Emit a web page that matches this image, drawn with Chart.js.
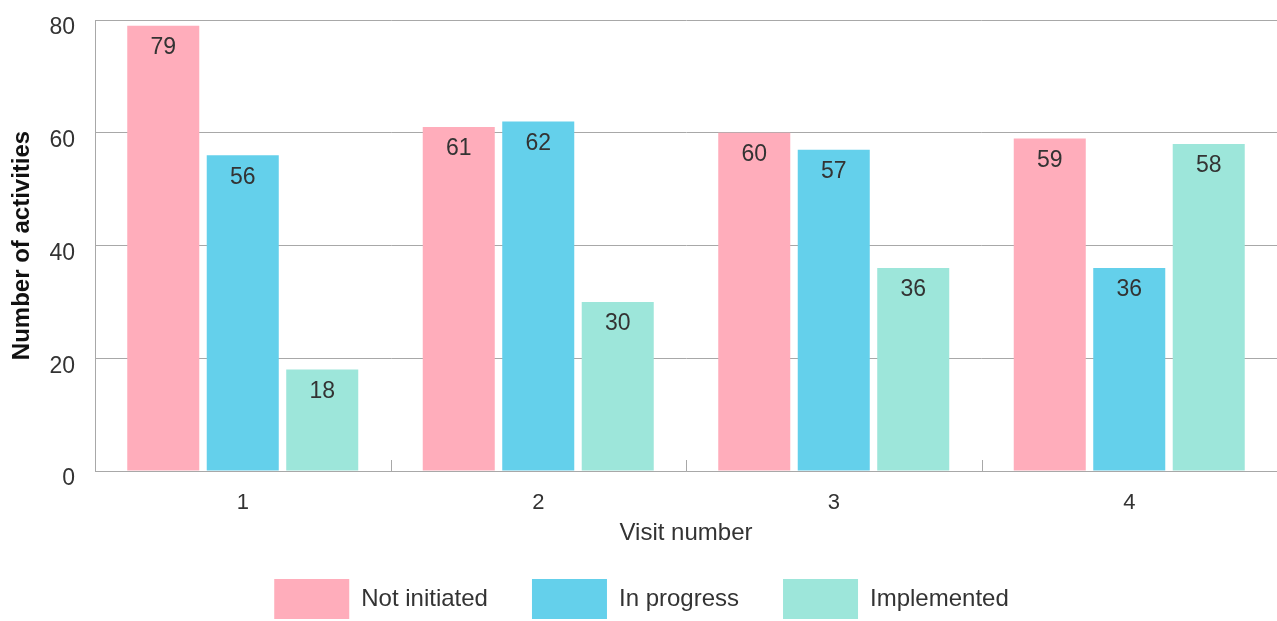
<!DOCTYPE html>
<html>
<head>
<meta charset="utf-8">
<script src="https://cdn.jsdelivr.net/npm/chart.js@4"></script>
<style>
  html, body { margin: 0; padding: 0; background: #fff; }
  #wrap { width: 1277px; height: 621px; position: relative; }
</style>
</head>
<body>
<div id="wrap"><canvas id="chart"></canvas></div>
<script>
// Data
const visits      = ['1', '2', '3', '4'];
const notInit     = [79, 61, 60, 59];
const inProgress  = [56, 62, 57, 36];
const implemented = [18, 30, 36, 58];
const yTicks      = [0, 20, 40, 60, 80];

// Styles
const FONT = "'Helvetica Neue', 'Liberation Sans', Arial, sans-serif";
const TXT  = '#333333';
const GRID = '#a8a8a8';

// value labels just under the top of each bar
const barLabels = {
  id: 'barLabels',
  afterDatasetsDraw(chart){
    const ctx = chart.ctx;
    ctx.save();
    ctx.font = `23px ${FONT}`;
    ctx.fillStyle = TXT;
    ctx.textAlign = 'center';
    ctx.textBaseline = 'middle';
    chart.data.datasets.forEach((ds, i) => {
      chart.getDatasetMeta(i).data.forEach((el, k) => {
        ctx.fillText(String(ds.data[k]), el.x, el.y + 22);
      });
    });
    ctx.restore();
  }
};

// small inside tick marks between the visit groups
const innerTicks = {
  id: 'innerTicks',
  afterDraw(chart){
    const x = chart.scales.x, ctx = chart.ctx;
    const bottom = chart.chartArea.bottom;
    ctx.save();
    ctx.strokeStyle = GRID;
    ctx.lineWidth = 1;
    ctx.beginPath();
    for (let i = 1; i < visits.length; i++){
      const px = Math.round((x.getPixelForValue(i - 1) + x.getPixelForValue(i)) / 2) + 0.5;
      ctx.moveTo(px, bottom - 11);
      ctx.lineTo(px, bottom);
    }
    ctx.stroke();
    ctx.restore();
  }
};

// trim the legend box height so the boxes sit at the bottom edge
const legendFit = {
  id: 'legendFit',
  beforeInit(chart){
    const orig = chart.legend.fit;
    chart.legend.fit = function(){
      orig.call(this);
      this.height = 86;
    };
  }
};

new Chart(document.getElementById('chart'), {
  type: 'bar',
  data: {
    labels: visits,
    datasets: [
      { label: 'Not initiated', data: notInit,     backgroundColor: '#ffadbb' },
      { label: 'In progress',   data: inProgress,  backgroundColor: '#64d0eb' },
      { label: 'Implemented',   data: implemented, backgroundColor: '#9de6da' }
    ]
  },
  options: {
    responsive: true,
    maintainAspectRatio: false,
    animation: false,
    datasets: { bar: { categoryPercentage: 0.807, barPercentage: 0.906 } },
    layout: { padding: { left: 6, right: 0, top: 20, bottom: 0 } },
    plugins: {
      tooltip: { enabled: false },
      legend: {
        position: 'bottom',
        labels: {
          boxWidth: 75, boxHeight: 40, padding: 44,
          color: TXT, font: { family: FONT, size: 24 }
        }
      }
    },
    scales: {
      x: {
        afterFit(scale){ scale.height = 64; },
        grid: { display: false, drawTicks: false },
        border: { display: true, color: GRID, width: 1 },
        ticks: { color: TXT, padding: 19, font: { family: FONT, size: 22 } },
        title: {
          display: true, text: 'Visit number', color: TXT,
          padding: { top: 0, bottom: -13 },
          font: { family: FONT, size: 24 }
        }
      },
      y: {
        min: 0, max: 80,
        afterBuildTicks(scale){ scale.ticks = yTicks.map(v => ({ value: v })); },
        afterFit(scale){ scale.width = 89; scale.paddingTop = 0; scale.paddingBottom = 0; },
        grid: { color: GRID, lineWidth: 1, drawTicks: false },
        border: { display: true, color: GRID, width: 1 },
        ticks: { color: TXT, padding: 20, labelOffset: 8, font: { family: FONT, size: 23 } },
        title: {
          display: true, text: 'Number of activities', color: '#111',
          padding: { top: 2, bottom: 0 },
          font: { family: FONT, size: 24, weight: 'bold' }
        }
      }
    }
  },
  plugins: [barLabels, innerTicks, legendFit]
});
</script>
</body>
</html>
